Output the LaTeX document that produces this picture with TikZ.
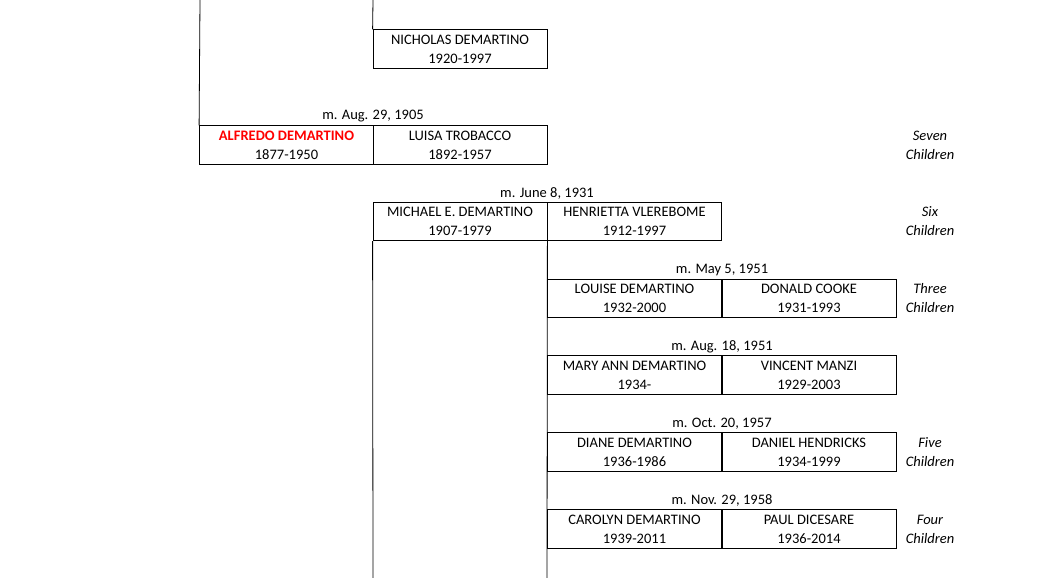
\documentclass[tikz,border=0pt]{standalone}
\usepackage{fontspec}
\setmainfont{Carlito}
\begin{document}
\begin{tikzpicture}[x=1pt,y=-1pt,
  person/.style={draw,line width=0.8pt,minimum width=174pt,minimum height=38.5pt,
    inner sep=0pt,align=center,font=\fontsize{14.5}{19}\selectfont},
  wed/.style={font=\fontsize{14.5}{16}\selectfont},
  kids/.style={align=center,font=\fontsize{14.5}{19}\selectfont\itshape}]
  \useasboundingbox (0,0) rectangle (1058,578);
  % Zeilen
  \node[person] (nicholas) at (460,49) {NICHOLAS DEMARTINO\\1920-1997};
  \node[person,text=red] (alfredo) at (286.5,145) {\textbf{ALFREDO DEMARTINO}\\\textcolor{black}{1877-1950}};
  \node[person] (luisa) at (460,145) {LUISA TROBACCO\\1892-1957};
  \node[person] (michael) at (460,221.5) {MICHAEL E. DEMARTINO\\1907-1979};
  \node[person] (henrietta) at (634.5,221.5) {HENRIETTA VLEREBOME\\1912-1997};
  \node[person] (louise) at (634.5,298.5) {LOUISE DEMARTINO\\1932-2000};
  \node[person] (donald) at (809,298.5) {DONALD COOKE\\1931-1993};
  \node[person] (mary) at (634.5,375) {MARY ANN DEMARTINO\\1934-};
  \node[person] (vincent) at (809,375) {VINCENT MANZI\\1929-2003};
  \node[person] (diane) at (634.5,452) {DIANE DEMARTINO\\1936-1986};
  \node[person] (daniel) at (809,452) {DANIEL HENDRICKS\\1934-1999};
  \node[person] (carolyn) at (634.5,529) {CAROLYN DEMARTINO\\1939-2011};
  \node[person] (paul) at (809,529) {PAUL DICESARE\\1936-2014};
  % Heiraten
  \node[wed] (w1) at (373,116) {m. Aug. 29, 1905};
  \node[wed] (w2) at (547,193) {m. June 8, 1931};
  \node[wed] (w3) at (722,270) {m. May 5, 1951};
  \node[wed] (w4) at (722,347) {m. Aug. 18, 1951};
  \node[wed] (w5) at (722,424) {m. Oct. 20, 1957};
  \node[wed] (w6) at (722,500) {m. Nov. 29, 1958};
  % Kinder
  \node[kids] (k1) at (930,145) {Seven\\Children};
  \node[kids] (k2) at (930,221.5) {Six\\Children};
  \node[kids] (k3) at (930,298.5) {Three\\Children};
  \node[kids] (k5) at (930,452) {Five\\Children};
  \node[kids] (k6) at (930,529) {Four\\Children};
  % Linien
  \coordinate (top1) at (200,0);
  \coordinate (top2) at (373,0);
  \coordinate (bot1) at (373,578);
  \coordinate (bot2) at (547,578);
  \draw[line width=0.8pt] (top1) -- (alfredo.north west);
  \draw[line width=0.8pt] (top2) -- (nicholas.north west);
  \draw[line width=0.8pt] (michael.south west) -- (bot1);
  \draw[line width=0.8pt] (michael.south east) -- (bot2);
\end{tikzpicture}
\end{document}
